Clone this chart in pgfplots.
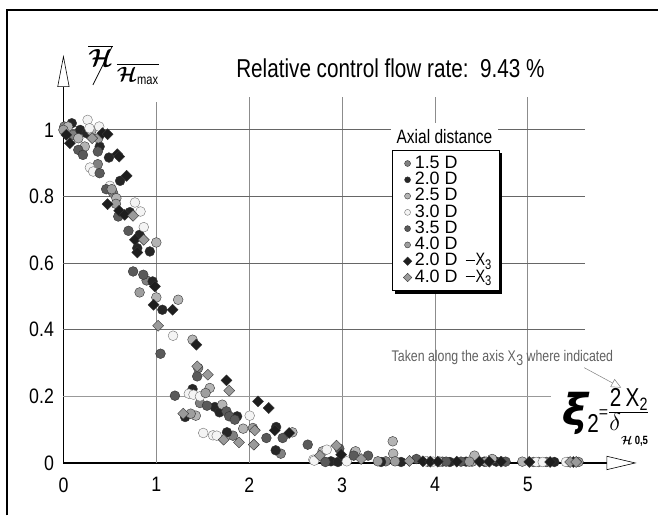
\documentclass[border=0pt]{standalone}
\usepackage{fontspec}
\usepackage{amsmath}
\usepackage{pgfplots}
\pgfplotsset{compat=1.18}
\usetikzlibrary{arrows.meta,shadows}
\setmainfont{Liberation Sans}
\newfontfamily\narrow[FakeStretch=0.8]{Liberation Sans}
\newfontfamily\ticks[FakeStretch=0.85]{Liberation Sans}
\newfontfamily\dejavu{DejaVu Sans}
\definecolor{c15}{HTML}{808080}
\definecolor{c20}{HTML}{262626}
\definecolor{c25}{HTML}{B4B4B4}
\definecolor{c30}{HTML}{F4F4F4}
\definecolor{c35}{HTML}{5A5A5A}
\definecolor{c40}{HTML}{9E9E9E}
\definecolor{cd20}{HTML}{1E1E1E}
\definecolor{cd40}{HTML}{9A9A9A}
\pgfplotsset{
 circ/.style={only marks, mark=*, mark size=4.9bp, mark options={draw=black!80, line width=0.4bp, fill=#1}},
 circw/.style={only marks, mark=*, mark size=4.9bp, mark options={draw=black!55, line width=0.4bp, fill=#1}},
 diam/.style={only marks, mark=square*, mark size=3.9bp, mark options={rotate=45, draw=black!80, line width=0.4bp, fill=#1}},
}
\newcommand{\xthree}{{\narrow\,\raisebox{0.5ex}{\rule{9bp}{1bp}}\kern1bp X\raisebox{-0.4ex}{\fontsize{14}{14}\selectfont 3}}}
\begin{document}
\begin{tikzpicture}
\begin{axis}[
 scale only axis, width=573.8bp, height=408.5bp,
 xmin=0, xmax=6.17, ymin=0, ymax=1.225,
 axis lines=left,
 x axis line style={line width=1.6bp, -{Triangle[fill=white, length=30bp, width=14bp, line width=0.6bp]}},
 y axis line style={line width=1.6bp, -{Triangle[fill=white, length=32bp, width=12bp, line width=0.6bp]}},
 xtick={0,1,2,3,4,5}, ytick={0,0.2,0.4,0.6,0.8,1},
 tick style={draw=none}, major tick length=0pt,
 tick label style={font=\ticks\fontsize{21}{21}\selectfont},
 /pgf/number format/assume math mode=true,
 xticklabel style={yshift=-11bp},
 yticklabel style={xshift=-6bp},
 clip=false,
 legend style={at={(axis cs:3.532,0.940)}, anchor=north west,
   draw=black, line width=1bp, fill=white,
   font=\fontsize{18}{18}\selectfont,
   inner xsep=7bp, inner ysep=5bp, row sep=0bp, column sep=2bp,
   nodes={inner sep=1bp, text height=11.8bp, text depth=2.5bp},
   drop shadow={shadow xshift=3bp, shadow yshift=-3bp, fill=black, opacity=1}},
 legend cell align=left,
 legend image code/.code={\node[inner sep=0pt, minimum size=0pt] at (0,0) {}; \draw[mark size=3bp, line width=0.4bp] plot coordinates {(0.32cm,0cm)};},
]
% grid
\draw[black!45, line width=0.8bp] (axis cs:1,0) -- (axis cs:1,1.085);
\draw[black!45, line width=0.8bp] (axis cs:2,0) -- (axis cs:2,1.10);
\draw[black!45, line width=0.8bp] (axis cs:3,0) -- (axis cs:3,1.10);
\draw[black!45, line width=0.8bp] (axis cs:4,0) -- (axis cs:4,1.10);
\draw[black!45, line width=0.8bp] (axis cs:5,0) -- (axis cs:5,1.10);
\draw[black!60, line width=0.8bp] (axis cs:0,1) -- (axis cs:5.61,1);
\draw[black!60, line width=0.8bp] (axis cs:0,0.8) -- (axis cs:5.61,0.8);
\draw[black!60, line width=0.8bp] (axis cs:0,0.6) -- (axis cs:5.61,0.6);
\draw[black!60, line width=0.8bp] (axis cs:0,0.4) -- (axis cs:5.61,0.4);
\draw[black!40, line width=0.8bp] (axis cs:0,0.2) -- (axis cs:5.25,0.2);
% frame and bounding box
\path (axis cs:-0.683,-0.1574) rectangle (axis cs:6.403,1.39);
\draw[line width=1.6bp] (axis cs:-0.6075,-0.1574) -- (axis cs:-0.6075,1.36) -- (axis cs:6.403,1.36);
% legend title
\node[fill=white, anchor=south, minimum width=107bp, minimum height=27bp, inner sep=0pt, font=\narrow\fontsize{19.5}{19.5}\selectfont] at (axis cs:4.102,0.940) {Axial distance};
% title
\node[font=\narrow\fontsize{26}{26}\selectfont] at (axis cs:3.52,1.186) {Relative control flow rate:\ \ 9.43 \%};
% y label
\node[inner sep=0pt] at (axis cs:0.40,1.222) {\fontsize{24.88}{25}\selectfont$\overline{\boldsymbol{\mathcal H}}$};
\draw[line width=0.8bp] (axis cs:0.317,1.135) -- (axis cs:0.522,1.249);
\node[inner sep=0pt] at (axis cs:0.80,1.168) {\fontsize{22}{22}\selectfont$\overline{\boldsymbol{\mathcal H}_{\mbox{\narrow\fontsize{14}{14}\selectfont max}}}$};
% x label
\node[anchor=base west, inner sep=0pt] at (axis cs:5.37,0.113) {%
 {\dejavu\bfseries\itshape\fontsize{44}{44}\selectfont ξ}\kern-1bp%
 \raisebox{-7bp}{\fontsize{26}{26}\selectfont\narrow 2}%
 \raisebox{8bp}{\fontsize{16}{16}\selectfont =}%
 \raisebox{11bp}{$\dfrac{\mbox{\fontsize{26}{26}\selectfont\narrow 2\,X\raisebox{-0.3ex}{\fontsize{18}{18}\selectfont 2}}}{\mbox{\fontsize{24.88}{25}\selectfont$\delta$\raisebox{-1.1ex}{\fontsize{12}{12}\selectfont$\boldsymbol{\mathcal H}$\bfseries\narrow\,0,5}}}$}};
% annotation
\node[font=\narrow\fontsize{15.5}{15.5}\selectfont, text=black!62] at (axis cs:4.726,0.316) {Taken along the axis X\kern0.5bp\raisebox{-0.45ex}{3} where indicated};
\draw[black!50, line width=0.5bp, -{Triangle[open, length=10bp, width=9bp]}] (axis cs:5.607,0.286) -- (axis cs:6.005,0.226);

% data
\addplot[circ=c15] coordinates {(0.01,1.01) (0.105,0.985) (0.37,0.897) (0.535,0.81) (0.895,0.548) (1.45,0.285) (1.47,0.18) (1.825,0.082) (2.34,0.028) (3.135,0.032) (3.47,0.005) (4.08,0.004) (5.06,0.003) (5.20,0.003)};
\addlegendentry{1.5 D}
\addplot[circ=c20] coordinates {(0.09,1.02) (0.18,1.00) (0.25,0.99) (0.39,0.95) (0.49,0.917) (0.61,0.847) (0.715,0.753) (0.82,0.685) (0.795,0.645) (0.93,0.635) (0.96,0.545) (1.065,0.46) (1.39,0.222) (1.63,0.168) (1.68,0.152) (1.87,0.14) (1.31,0.138) (1.76,0.092) (2.29,0.108) (2.285,0.038) (2.88,0.005) (2.955,0.003) (3.42,0.003) (3.635,0.003) (3.92,0.004) (4.16,0.003) (4.335,0.004) (4.53,0.004) (4.66,0.004) (5.285,0.003)};
\addlegendentry{2.0 D}
\addplot[circ=c25] coordinates {(0.05,1.01) (0.16,0.975) (0.23,0.95) (0.30,0.997) (0.57,0.795) (1.00,0.662) (1.00,0.497) (1.235,0.49) (1.39,0.37) (1.575,0.225) (1.71,0.175) (1.425,0.142) (1.935,0.103) (2.465,0.092) (2.79,0.035) (3.145,0.035) (3.545,0.065) (3.55,0.028) (4.05,0.004) (4.40,0.004) (4.425,0.022) (4.615,0.012) (4.94,0.004) (5.115,0.003) (5.43,0.003)};
\addlegendentry{2.5 D}
\addplot[circw=c30] coordinates {(0.26,1.03) (0.28,1.005) (0.385,1.01) (0.285,0.887) (0.32,0.875) (0.50,0.832) (0.77,0.782) (0.83,0.755) (0.865,0.708) (1.18,0.382) (1.35,0.208) (1.40,0.205) (1.47,0.20) (1.505,0.09) (1.61,0.083) (1.65,0.082) (2.005,0.142) (2.69,0.01) (2.70,0.007) (2.835,0.04) (3.05,0.005) (3.90,0.005) (3.98,0.004) (4.72,0.004) (5.09,0.003) (5.16,0.003) (5.41,0.003)};
\addlegendentry{3.0 D}
\addplot[circ=c35] coordinates {(0.16,0.94) (0.21,0.925) (0.37,0.935) (0.39,0.87) (0.46,0.822) (0.59,0.74) (0.70,0.697) (0.75,0.575) (0.86,0.565) (1.045,0.328) (1.44,0.26) (1.20,0.202) (1.545,0.172) (1.755,0.155) (1.785,0.14) (1.845,0.13) (2.185,0.075) (2.36,0.075) (2.63,0.055) (2.82,0.003) (2.97,0.043) (3.125,0.022) (3.28,0.022) (3.80,0.012) (4.12,0.004) (4.28,0.004) (4.76,0.004)};
\addlegendentry{3.5 D}
\addplot[circ=c40] coordinates {(0.0,1.0) (0.375,0.975) (0.52,0.822) (0.565,0.778) (0.82,0.512) (1.53,0.21) (1.37,0.148) (2.04,0.105) (3.385,0.005) (3.57,0.005) (4.37,0.004) (4.55,0.004) (5.545,0.003)};
\addlegendentry{4.0 D}
\addplot[diam=cd20] coordinates {(0.03,0.985) (0.07,0.96) (0.42,0.99) (0.475,0.987) (0.58,0.927) (0.60,0.92) (0.68,0.862) (0.475,0.777) (0.60,0.757) (0.66,0.745) (0.77,0.67) (0.795,0.632) (0.985,0.53) (0.97,0.475) (1.175,0.46) (1.43,0.355) (1.755,0.248) (2.095,0.185) (2.21,0.165) (2.275,0.098) (2.43,0.09) (2.99,0.025) (3.87,0.005) (3.95,0.004) (4.03,0.004) (4.235,0.004) (4.48,0.004) (4.585,0.004) (4.71,0.004) (5.015,0.003) (5.24,0.003) (5.49,0.003)};
\addlegendentry{2.0 D \xthree}
\addplot[diam=cd40] coordinates {(0.31,0.975) (0.75,0.742) (0.865,0.67) (1.02,0.412) (1.44,0.29) (1.555,0.265) (1.785,0.217) (1.29,0.148) (1.725,0.07) (1.89,0.062) (2.06,0.098) (2.05,0.055) (2.76,0.022) (2.94,0.052) (3.205,0.012) (3.725,0.006) (5.455,0.003) (5.52,0.003)};
\addlegendentry{4.0 D \xthree}
\end{axis}
\end{tikzpicture}
\end{document}
